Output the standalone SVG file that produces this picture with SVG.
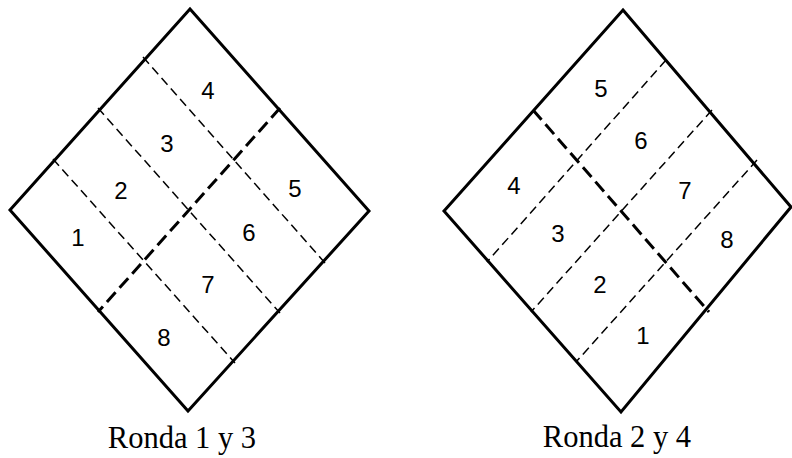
<svg xmlns="http://www.w3.org/2000/svg" width="792" height="458" viewBox="0 0 792 458">
<style>
.edge{fill:none;stroke:#000;stroke-width:3;stroke-linejoin:miter}
.thin{stroke:#000;stroke-width:1.5;stroke-dasharray:9 5;fill:none}
.thick{stroke:#000;stroke-width:3;stroke-dasharray:13 6;fill:none}
.num{font-family:"Liberation Sans",Arial,sans-serif;font-size:24px;fill:#000;text-anchor:middle}
.cap{font-family:"Liberation Serif","Times New Roman",serif;font-size:30.5px;fill:#000;text-anchor:middle}
</style>
<rect width="792" height="458" fill="#fff"/>
<g id="diagram-left">
  <g id="left-outline"><polygon class="edge" points="190,9 369,211 188,411 10,210"/></g>
  <g id="left-connectors">
    <line class="thin" x1="143" y1="57" x2="325" y2="263"/>
    <line class="thin" x1="98" y1="108" x2="280" y2="313"/>
    <line class="thin" x1="53" y1="159" x2="235" y2="363"/>
    <line class="thick" x1="280" y1="108" x2="98" y2="312"/>
  </g>
  <g id="left-cell-1"><text class="num" x="78" y="246">1</text></g>
  <g id="left-cell-2"><text class="num" x="121" y="199">2</text></g>
  <g id="left-cell-3"><text class="num" x="167" y="152">3</text></g>
  <g id="left-cell-4"><text class="num" x="208" y="99">4</text></g>
  <g id="left-cell-5"><text class="num" x="295" y="197">5</text></g>
  <g id="left-cell-6"><text class="num" x="249" y="241">6</text></g>
  <g id="left-cell-7"><text class="num" x="208" y="293">7</text></g>
  <g id="left-cell-8"><text class="num" x="164" y="346">8</text></g>
  <text class="cap" x="182" y="448">Ronda 1 y 3</text>
</g>
<g id="diagram-right">
  <g id="right-outline"><polygon class="edge" points="623,10 791,207 621,412 444,211"/></g>
  <g id="right-connectors">
    <line class="thin" x1="666" y1="60" x2="487" y2="262"/>
    <line class="thin" x1="712" y1="110" x2="531" y2="312"/>
    <line class="thin" x1="757" y1="160" x2="576" y2="362"/>
    <line class="thick" x1="533" y1="110" x2="709" y2="312"/>
  </g>
  <g id="right-cell-1"><text class="num" x="643" y="344">1</text></g>
  <g id="right-cell-2"><text class="num" x="600" y="293">2</text></g>
  <g id="right-cell-3"><text class="num" x="558" y="242">3</text></g>
  <g id="right-cell-4"><text class="num" x="514" y="194">4</text></g>
  <g id="right-cell-5"><text class="num" x="601" y="97">5</text></g>
  <g id="right-cell-6"><text class="num" x="641" y="149">6</text></g>
  <g id="right-cell-7"><text class="num" x="685" y="199">7</text></g>
  <g id="right-cell-8"><text class="num" x="727" y="248">8</text></g>
  <text class="cap" x="617" y="447">Ronda 2 y 4</text>
</g>
</svg>
